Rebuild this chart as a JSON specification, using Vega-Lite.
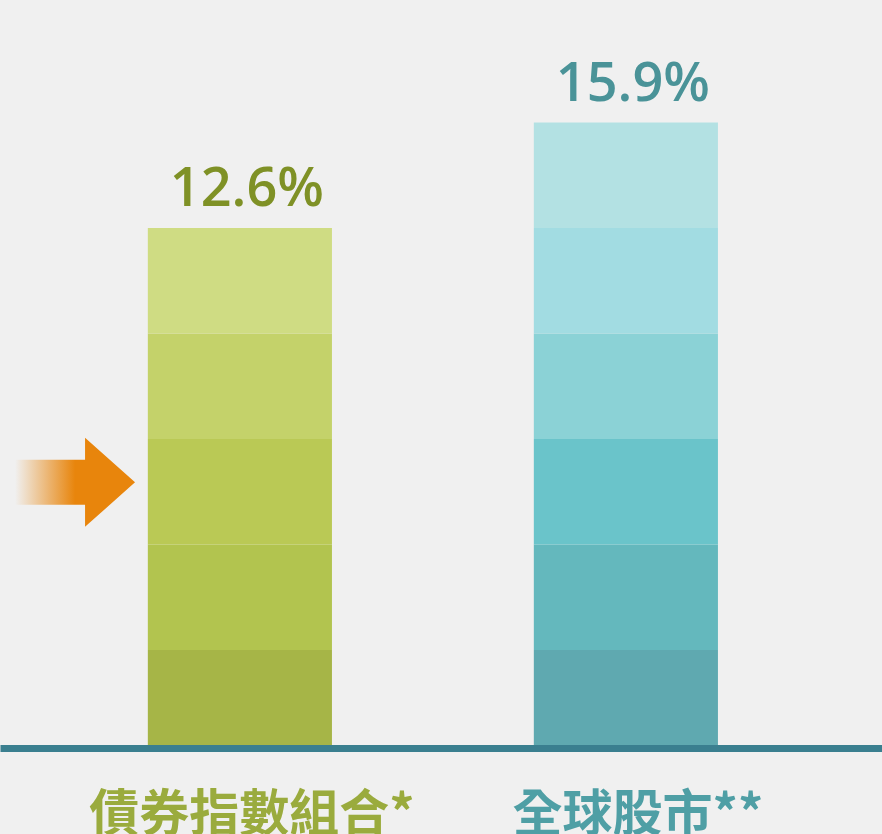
{
  "$schema": "https://vega.github.io/schema/vega-lite/v6.json",
  "width": 882,
  "height": 745,
  "autosize": {"type": "none"},
  "padding": {"left": 0, "top": 0, "right": 0, "bottom": 89},
  "background": "#f0f0f0",
  "config": {"view": {"stroke": null}},
  "datasets": {
    "segments": [
      {"category": "債券指數組合*", "seg": "b1", "level": 1, "blocks": 0.9},
      {"category": "債券指數組合*", "seg": "b2", "level": 2, "blocks": 1},
      {"category": "債券指數組合*", "seg": "b3", "level": 3, "blocks": 1},
      {"category": "債券指數組合*", "seg": "b4", "level": 4, "blocks": 1},
      {"category": "債券指數組合*", "seg": "b5", "level": 5, "blocks": 1},
      {"category": "全球股市**", "seg": "e1", "level": 1, "blocks": 0.9},
      {"category": "全球股市**", "seg": "e2", "level": 2, "blocks": 1},
      {"category": "全球股市**", "seg": "e3", "level": 3, "blocks": 1},
      {"category": "全球股市**", "seg": "e4", "level": 4, "blocks": 1},
      {"category": "全球股市**", "seg": "e5", "level": 5, "blocks": 1},
      {"category": "全球股市**", "seg": "e6", "level": 6, "blocks": 1}
    ],
    "labels": [
      {"category": "債券指數組合*", "label": "12.6%", "top": 4.9},
      {"category": "全球股市**", "label": "15.9%", "top": 5.9}
    ],
    "arrow": [
      {"category": "債券指數組合*", "level": 2.49}
    ]
  },
  "layer": [
    {
      "data": {"name": "segments"},
      "mark": {"type": "bar"},
      "encoding": {
        "x": {
          "field": "category",
          "type": "nominal",
          "sort": ["債券指數組合*", "全球股市**"],
          "scale": {"paddingInner": 0.523, "paddingOuter": 0.404, "align": 0.474},
          "axis": {
            "title": null,
            "domainColor": "#3a7f8f",
            "domainWidth": 7,
            "offset": 3,
            "ticks": false,
            "grid": false,
            "labelAngle": 0,
            "labelFont": "Noto Sans CJK TC",
            "labelFontSize": 50,
            "labelFontWeight": "bold",
            "labelBaseline": "top",
            "labelPadding": 42,
            "labelOffset": 12,
            "labelLimit": 0,
            "labelOverlap": false,
            "labelColor": {
              "condition": {"test": "datum.value === '債券指數組合*'", "value": "#9aab3d"},
              "value": "#4f9fa5"
            }
          }
        },
        "y": {
          "field": "blocks",
          "type": "quantitative",
          "stack": "zero",
          "scale": {"domain": [0, 7.062], "nice": false},
          "axis": null
        },
        "color": {
          "field": "seg",
          "type": "nominal",
          "scale": {
            "domain": ["b1", "b2", "b3", "b4", "b5", "e1", "e2", "e3", "e4", "e5", "e6"],
            "range": ["#a6b547", "#b2c44f", "#bac955", "#c4d26a", "#cfdc83", "#5fa9b0", "#64b8bd", "#6ac4ca", "#8bd2d6", "#a2dce2", "#b3e1e3"]
          },
          "legend": null
        },
        "order": {"field": "level", "type": "quantitative"}
      }
    },
    {
      "data": {"name": "labels"},
      "mark": {"type": "text", "font": "Open Sans", "fontSize": 54, "fontWeight": 600, "dx": 7, "dy": -22, "baseline": "alphabetic", "align": "center"},
      "encoding": {
        "x": {"field": "category", "type": "nominal", "sort": ["債券指數組合*", "全球股市**"]},
        "y": {"field": "top", "type": "quantitative"},
        "text": {"field": "label"},
        "color": {
          "condition": {"test": "datum.category === '債券指數組合*'", "value": "#7f9126"},
          "value": "#4a9398"
        }
      }
    },
    {
      "data": {"name": "arrow"},
      "mark": {
        "type": "point",
        "filled": true,
        "opacity": 1,
        "strokeWidth": 0,
        "size": 14400,
        "shape": "M-1,-0.375 L0.167,-0.375 L0.167,-0.742 L1,0 L0.167,0.742 L0.167,0.375 L-1,0.375 Z",
        "fill": {
          "gradient": "linear",
          "x1": 0, "x2": 1, "y1": 0, "y2": 0,
          "stops": [
            {"offset": 0, "color": "rgba(232,133,12,0)"},
            {"offset": 0.5, "color": "#e8850c"},
            {"offset": 1, "color": "#e8850c"}
          ]
        }
      },
      "encoding": {
        "x": {"field": "category", "type": "nominal", "sort": ["債券指數組合*", "全球股市**"]},
        "xOffset": {"value": -72.8},
        "y": {"field": "level", "type": "quantitative"}
      }
    }
  ]
}
